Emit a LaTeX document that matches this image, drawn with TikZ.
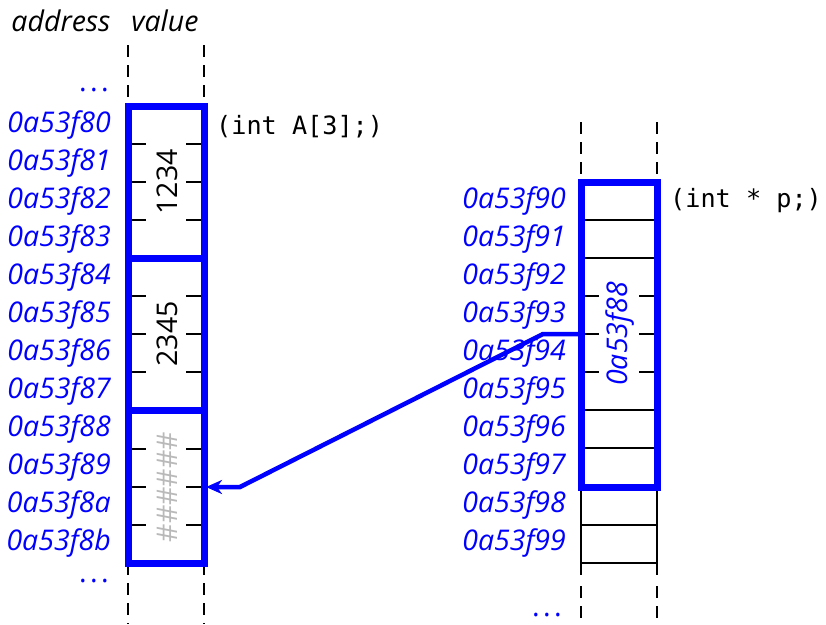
\documentclass[tikz,border=0pt]{standalone}
\usepackage{fontspec}
\setmainfont{Open Sans}
\setmonofont{DejaVu Sans Mono}
\usetikzlibrary{arrows.meta}
\definecolor{memblue}{RGB}{0,0,255}
\definecolor{hashgray}{RGB}{185,185,185}
\begin{document}
\begin{tikzpicture}[x=1pt,y=-1pt,
  txt/.style={font=\fontsize{28.5}{32}\selectfont, inner sep=0pt},
  addr/.style={txt, font=\fontsize{28.5}{32}\selectfont\itshape, text=memblue, anchor=east},
  head/.style={txt, font=\fontsize{28.5}{32}\selectfont\itshape, anchor=base},
  decl/.style={txt, font=\fontsize{25.2}{30}\selectfont\ttfamily, anchor=west},
  dotsl/.style={txt, text=memblue, anchor=base east},
  guide/.style={black, line width=2pt, dash pattern=on 12pt off 8pt},
  cellline/.style={black, line width=2pt},
  blockbox/.style={memblue, line width=7pt},
  pointer/.style={memblue, line width=4.5pt, -{Stealth[length=16pt,width=14pt,inset=5pt]}}
]
\useasboundingbox (0,0) rectangle (826,624);

% headers
\node[head] (haddr) at (61,31) {address};
\node[head] (hval) at (165,31) {value};

% ---------- left column ----------
\draw[guide] (128,45) -- (128,106);
\draw[guide] (204,45) -- (204,106);
\draw[guide] (128,563) -- (128,624);
\draw[guide] (204,563) -- (204,624);
\node[dotsl] (dl1) at (109,91) {.\hspace{3.5pt}.\hspace{3.5pt}.};
\node[dotsl] (dl2) at (109,582) {.\hspace{3.5pt}.\hspace{3.5pt}.};

\foreach \i/\a in {0/0a53f80,1/0a53f81,2/0a53f82,3/0a53f83,4/0a53f84,5/0a53f85,6/0a53f86,7/0a53f87,8/0a53f88,9/0a53f89,10/0a53f8a,11/0a53f8b}{
  \node[addr] (la\i) at (111,{106+38*(\i+0.5)}) {\a};
}
% ticks
\foreach \y in {144,182,220,296,334,372,449,487,525}{
  \draw[cellline] (128,\y) -- (146,\y);
  \draw[cellline] (186,\y) -- (204,\y);
}
\node[txt, rotate=90] (v1) at (167,182) {1234};
\node[txt, rotate=90] (v2) at (167,334) {2345};
\node[txt, rotate=90, text=hashgray] (v3) at (167,487) {\#\#\#\#\#\#};

\draw[blockbox] (128,106) rectangle (204,563);
\draw[blockbox] (128,258) -- (204,258);
\draw[blockbox] (128,410) -- (204,410);
\node[decl] (dA) at (216,127) {(int A[3];)};

% ---------- right column ----------
\draw[guide] (581,122) -- (581,182);
\draw[guide] (657,122) -- (657,182);
\draw[cellline] (581,487) -- (581,575);
\draw[cellline] (657,487) -- (657,575);
\draw[guide] (581,586) -- (581,624);
\draw[guide] (657,586) -- (657,624);
\node[dotsl] (dr) at (562,616) {.\hspace{3.5pt}.\hspace{3.5pt}.};

\foreach \i/\a in {0/0a53f90,1/0a53f91,2/0a53f92,3/0a53f93,4/0a53f94,5/0a53f95,6/0a53f96,7/0a53f97,8/0a53f98,9/0a53f99}{
  \node[addr] (ra\i) at (566,{182+38*(\i+0.5)}) {\a};
}
\foreach \y in {220,258,410,448,525,563}{
  \draw[cellline] (581,\y) -- (657,\y);
}
\foreach \y in {296,334,372}{
  \draw[cellline] (581,\y) -- (599,\y);
  \draw[cellline] (639,\y) -- (657,\y);
}
\node[txt, rotate=90, font=\fontsize{28.5}{32}\selectfont\itshape, text=memblue] (pv) at (620,334) {0a53f88};
\draw[blockbox] (581,182) rectangle (657,487);
\node[decl] (dp) at (670,201) {(int * p;)};

% pointer arrow
\coordinate (pstart) at (581,334);
\coordinate (pbend1) at (543,334);
\coordinate (pbend2) at (240,487);
\coordinate (ptarget) at (206,487);
\draw[pointer] (pstart) -- (pbend1) -- (pbend2) -- (ptarget);
\end{tikzpicture}
\end{document}
